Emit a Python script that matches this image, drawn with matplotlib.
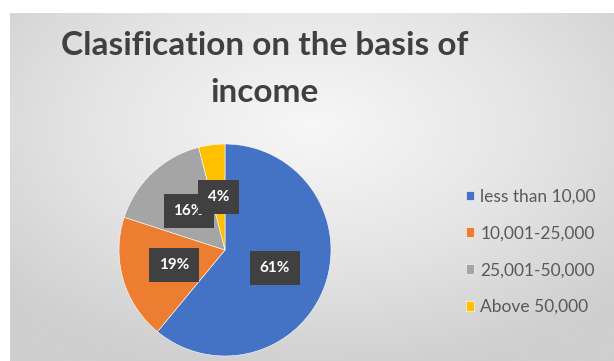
import numpy as np
import matplotlib
matplotlib.use("Agg")
import matplotlib.pyplot as plt
from matplotlib.colors import LinearSegmentedColormap

# income groups and their share of respondents (%)
categories = ["less than 10,00", "10,001-25,000", "25,001-50,000", "Above 50,000"]
shares = [61, 19, 16, 4]
colors = ["#4472C4", "#ED7D31", "#A5A5A5", "#FFC000"]

W, H = 614, 361
fig = plt.figure(figsize=(W / 100, H / 100), dpi=100, facecolor="white")

# grey chart-area background, lighter towards the middle
bg = fig.add_axes([10 / W, 0, 1 - 10 / W, 1 - 13 / H])
bg.set_axis_off()
yy, xx = np.mgrid[-1:1:200j, -1:1:340j]
r = np.sqrt((xx * 0.95) ** 2 + ((yy + 0.35) * 0.9) ** 2)
cmap = LinearSegmentedColormap.from_list("bg", ["#f7f7f7", "#e6e6e6", "#cfcfcf"])
bg.imshow(np.clip(r, 0, 1.3), cmap=cmap, aspect="auto", origin="upper",
          extent=[0, 1, 0, 1], interpolation="bicubic")

fig.text(265 / W, 1 - 55 / H, "Clasification on the basis of", ha="center",
         va="baseline", fontsize=24, color="#404040", family="Lato", weight="bold")
fig.text(265 / W, 1 - 102 / H, "income", ha="center", va="baseline",
         fontsize=24, color="#404040", family="Lato", weight="bold")

# pie centred at (225, 250) px, radius 106 px
cx, cy, rad = 225, 250, 106
ax = fig.add_axes([(cx - rad) / W, (H - cy - rad) / H, 2 * rad / W, 2 * rad / H])
wedges, texts, autotexts = ax.pie(
    shares, colors=colors, startangle=90, counterclock=False,
    autopct=lambda p: "%d%%" % round(p), pctdistance=0.5,
    wedgeprops=dict(edgecolor="white", linewidth=0.4))
ax.set_xlim(-1, 1)
ax.set_ylim(-1, 1)
ax.set_aspect("equal")
for t in autotexts:
    t.set_color("white")
    t.set_fontsize(11)
    t.set_fontweight("bold")
    t.set_family("Lato")
    t.set_bbox(dict(boxstyle="square,pad=0.65", facecolor="#404040", edgecolor="none"))

leg = fig.legend(wedges, categories, loc="upper left",
                 bbox_to_anchor=(450 / W, 1 - 173 / H), frameon=False,
                 handlelength=0.5, handleheight=0.5, handletextpad=0.35,
                 labelspacing=1.2, prop=dict(family="Lato", size=12.5))
for t in leg.get_texts():
    t.set_color("#595959")

fig.savefig("out.png", dpi=100, facecolor="white")
